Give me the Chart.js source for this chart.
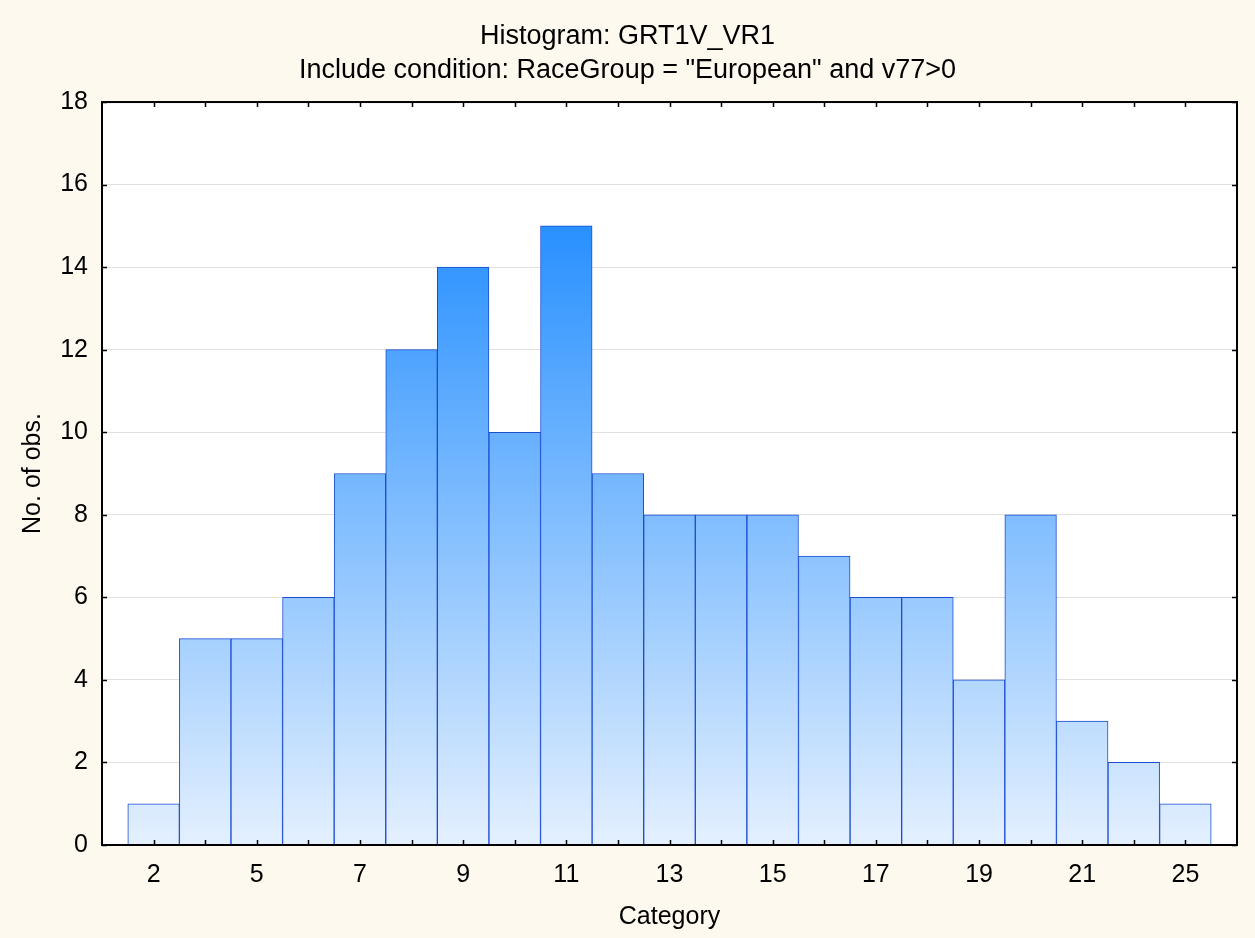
<!DOCTYPE html>
<html>
<head>
<meta charset="utf-8">
<script src="https://cdn.jsdelivr.net/npm/chart.js@4"></script>
<style>
  html, body { margin: 0; padding: 0; background: #fdf9ee; }
  #wrap { width: 1255px; height: 938px; }
</style>
</head>
<body>
<div id="wrap"><canvas id="hist" width="1255" height="938"></canvas></div>
<script>
// Categorias (só as de índice par aparecem no eixo)
const categories = ["2", "4", "5", "6", "7", "8", "9", "10", "11", "12", "13",
  "14", "15", "16", "17", "18", "19", "20", "21", "24", "25"];
// Número de observações por categoria
const counts = [1, 5, 5, 6, 9, 12, 14, 10, 15, 9, 8, 8, 8, 7, 6, 6, 4, 8, 3, 2, 1];
const yTicks = [0, 2, 4, 6, 8, 10, 12, 14, 16, 18];

const titleLines = ["Histogram: GRT1V_VR1", 'Include condition: RaceGroup = "European" and v77>0'];

const baseFont = "'Liberation Sans', Arial, sans-serif";

// Gradiente vertical do azul claro (base) até o azul forte (topo)
function barGradient(ctx) {
  const chart = ctx.chart;
  const area = chart.chartArea;
  if (!area) return "#7fbcfc";
  const y = chart.scales.y;
  const g = chart.ctx.createLinearGradient(0, y.getPixelForValue(0), 0, y.getPixelForValue(15));
  g.addColorStop(0, "#e4f0fe");
  g.addColorStop(1, "#2890ff");
  return g;
}

// Fundo branco da área do gráfico
const plotBg = {
  id: "plotBg",
  beforeDraw(chart) {
    const { ctx, chartArea: a } = chart;
    ctx.save();
    ctx.fillStyle = "#fdf9ee";
    ctx.fillRect(0, 0, chart.width, chart.height);
    ctx.fillStyle = "#ffffff";
    ctx.fillRect(a.left, a.top, a.right - a.left, a.bottom - a.top);
    ctx.restore();
  }
};

// Moldura e marcas dos eixos voltadas para dentro
const frameTicks = {
  id: "frameTicks",
  afterDraw(chart) {
    const { ctx, chartArea: a, scales } = chart;
    const len = 5;
    ctx.save();
    ctx.strokeStyle = "#000";
    ctx.lineWidth = 1.5;
    ctx.beginPath();
    for (let i = 1; i <= categories.length; i++) {
      const px = Math.round(scales.x.getPixelForValue(i)) + 0.5;
      ctx.moveTo(px, a.bottom);
      ctx.lineTo(px, a.bottom - len);
      ctx.moveTo(px, a.top);
      ctx.lineTo(px, a.top + len);
    }
    yTicks.forEach(v => {
      const py = Math.round(scales.y.getPixelForValue(v)) + 0.5;
      ctx.moveTo(a.left, py);
      ctx.lineTo(a.left + len, py);
      ctx.moveTo(a.right, py);
      ctx.lineTo(a.right - len, py);
    });
    ctx.stroke();
    ctx.lineWidth = 2;
    ctx.strokeRect(a.left, a.top, a.right - a.left, a.bottom - a.top);
    ctx.restore();
  }
};

new Chart(document.getElementById("hist"), {
  type: "bar",
  data: {
    datasets: [{
      label: "No. of obs.",
      data: counts.map((c, i) => ({ x: i + 1, y: c })),
      backgroundColor: barGradient,
      borderColor: "#1a4cd4",
      borderWidth: 1,
      barPercentage: 1,
      categoryPercentage: 1,
      borderSkipped: "bottom"
    }]
  },
  options: {
    responsive: false,
    animation: false,
    layout: { padding: 0 },
    plugins: {
      legend: { display: false },
      tooltip: { enabled: false },
      title: {
        display: true,
        text: titleLines,
        color: "#000",
        font: { family: baseFont, size: 27, weight: "normal", lineHeight: 1.26 },
        padding: { top: 20, bottom: 14 }
      }
    },
    scales: {
      x: {
        type: "linear",
        offset: false,
        min: 0,
        max: 22,
        border: { display: false },
        grid: { display: false, drawTicks: false, offset: false },
        ticks: {
          stepSize: 1,
          autoSkip: false,
          maxRotation: 0,
          padding: 15,
          color: "#000",
          font: { family: baseFont, size: 25 },
          callback: v => (v >= 1 && v <= categories.length && (v - 1) % 2 === 0) ? categories[v - 1] : ""
        },
        title: {
          display: true,
          text: "Category",
          color: "#000",
          font: { family: baseFont, size: 25 },
          padding: { top: 0, bottom: 6 }
        },
        afterFit(scale) { scale.height = 93; }
      },
      y: {
        min: 0,
        max: 18,
        border: { display: false },
        grid: { color: "#e0e0e0", lineWidth: 1, drawTicks: false },
        ticks: {
          stepSize: 2,
          padding: 14,
          color: "#000",
          font: { family: baseFont, size: 25 }
        },
        title: {
          display: true,
          text: "No. of obs.",
          color: "#000",
          font: { family: baseFont, size: 25 },
          padding: { top: 18, bottom: 0 }
        },
        afterFit(scale) { scale.width = 102; }
      },
      y2: {
        position: "right",
        min: 0,
        max: 18,
        border: { display: false },
        grid: { display: false, drawTicks: false },
        ticks: { display: false },
        afterFit(scale) { scale.width = 18; }
      }
    }
  },
  plugins: [plotBg, frameTicks]
});
</script>
</body>
</html>
